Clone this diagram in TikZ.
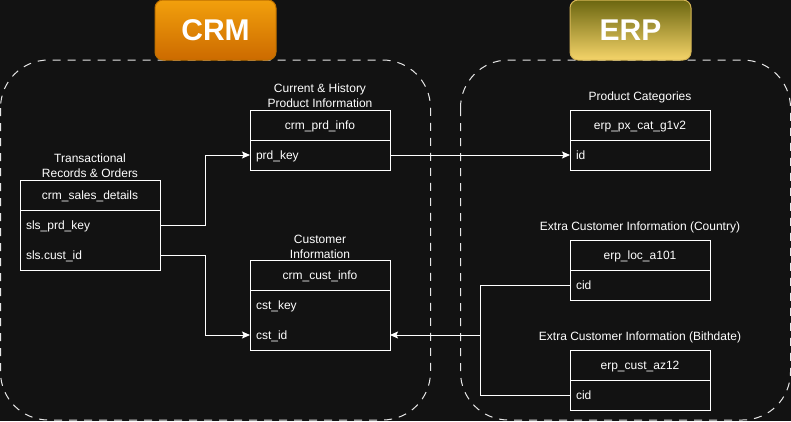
\documentclass[tikz,border=0pt]{standalone}
\usepackage{fontspec}
\setmainfont{Liberation Sans}
\usetikzlibrary{arrows.meta}
\definecolor{bg}{HTML}{121212}
\definecolor{contc}{HTML}{E6E6E6}
\definecolor{crmtop}{HTML}{F2A00C}
\definecolor{crmbot}{HTML}{CC6A00}
\definecolor{crmline}{HTML}{BD7000}
\definecolor{erptop}{HTML}{6B6610}
\definecolor{erpbot}{HTML}{F5D469}
\definecolor{erpline}{HTML}{D6B656}
\newcommand{\tf}{\fontsize{12}{15}\selectfont}
\begin{document}
\begin{tikzpicture}[x=1pt,y=-1pt,
  cont/.style={draw=contc, line width=1pt, dash pattern=on 8pt off 7pt, rounded corners=48pt},
  badge/.style={line width=1pt, rounded corners=8pt, minimum width=121pt, minimum height=60pt,
    inner sep=0pt, outer sep=0pt, text=white, font=\fontsize{30}{36}\selectfont\bfseries},
  hdr/.style={draw=white, line width=1pt, minimum width=140pt, minimum height=30pt, inner sep=0pt,
    outer sep=0pt, anchor=north west, text=white, font=\tf, text height=8.6pt, text depth=0pt},
  rowbox/.style={minimum height=30pt, inner xsep=6pt, inner ysep=0pt, outer sep=0pt, text width=128pt,
    align=left, anchor=north west, text=white, font=\tf, text height=8.6pt, text depth=0pt},
  tline/.style={draw=white, line width=1pt},
  lbl/.style={text=white, font=\tf, align=center, anchor=base, inner sep=0pt},
  conn/.style={draw=white, line width=1pt},
  arr/.style={conn, -{Stealth[length=8pt,width=7pt,inset=1.5pt]}}
]
\useasboundingbox (0,0) rectangle (791,421);
\fill[bg] (0,0) rectangle (791,421);

% containers
\draw[cont] (0.5,60) rectangle (430.5,420);
\draw[cont] (460.5,60) rectangle (790.5,420);

% badges
\node[badge, draw=crmline, top color=crmtop, bottom color=crmbot] (crm) at (215.5,30) {CRM};
\node[badge, draw=erpline, top color=erptop, bottom color=erpbot] (erp) at (630.5,30) {ERP};

% crm_sales_details
\node[lbl] (lsales) at (90,177) {Transactional\\Records \& Orders};
\node[hdr] (sales) at (20,180) {crm\_sales\_details};
\node[rowbox] (slsprd) at (20,210) {sls\_prd\_key};
\node[rowbox] (slscust) at (20,240) {sls.cust\_id};
\draw[tline] (sales.north west) rectangle (slscust.south east);

% crm_prd_info
\node[lbl] (lprd) at (320,107) {Current \& History\\Product Information};
\node[hdr] (prd) at (250,110) {crm\_prd\_info};
\node[rowbox] (prdkey) at (250,140) {prd\_key};
\draw[tline] (prd.north west) rectangle (prdkey.south east);

% crm_cust_info
\node[lbl] (lcust) at (320,258) {Customer\\Information};
\node[hdr] (cust) at (250,260) {crm\_cust\_info};
\node[rowbox] (cstkey) at (250,290) {cst\_key};
\node[rowbox] (cstid) at (250,320) {cst\_id};
\draw[tline] (cust.north west) rectangle (cstid.south east);

% erp_px_cat_g1v2
\node[lbl] (lpx) at (640,100) {Product Categories};
\node[hdr] (px) at (570,110) {erp\_px\_cat\_g1v2};
\node[rowbox] (pxid) at (570,140) {id};
\draw[tline] (px.north west) rectangle (pxid.south east);

% erp_loc_a101
\node[lbl] (lloc) at (640,230) {Extra Customer Information (Country)};
\node[hdr] (loc) at (570,240) {erp\_loc\_a101};
\node[rowbox] (loccid) at (570,270) {cid};
\draw[tline] (loc.north west) rectangle (loccid.south east);

% erp_cust_az12
\node[lbl] (laz) at (640,340) {Extra Customer Information (Bithdate)};
\node[hdr] (az) at (570,350) {erp\_cust\_az12};
\node[rowbox] (azcid) at (570,380) {cid};
\draw[tline] (az.north west) rectangle (azcid.south east);

% connectors
\draw[arr] (slsprd.east) -| ([xshift=-45pt]prdkey.west) -- (prdkey.west);
\draw[arr] (slscust.east) -| ([xshift=-45pt]cstid.west) -- (cstid.west);
\draw[arr] (prdkey.east) -- (pxid.west);
\coordinate (join) at ([xshift=90pt]cstid.east);
\draw[conn] (loccid.west) -| (join);
\draw[conn] (azcid.west) -| (join);
\draw[arr] (join) -- (cstid.east);
\end{tikzpicture}
\end{document}
